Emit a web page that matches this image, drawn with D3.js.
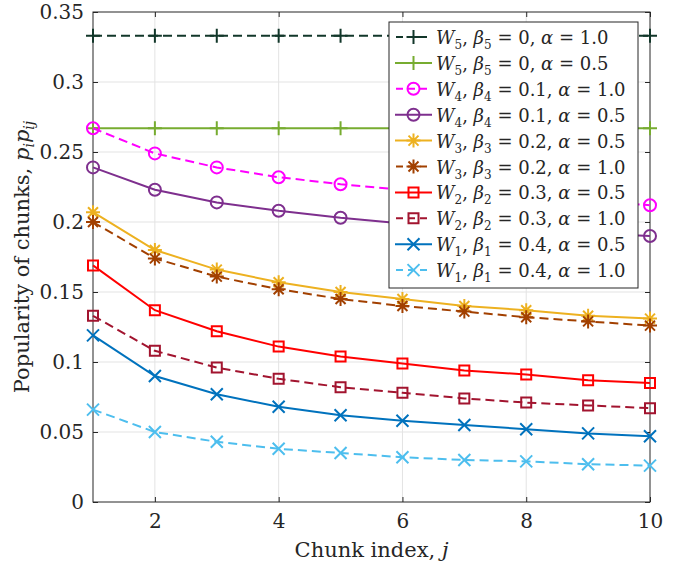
<!DOCTYPE html>
<html>
<head>
<meta charset="utf-8">
<script src="https://cdn.jsdelivr.net/npm/d3@7"></script>
<style>
  body { margin: 0; background: #fff; }
  text { font-family: "DejaVu Serif"; fill: #262626; }
</style>
</head>
<body>
<div id="chart"></div>
<script>
var width = 683,
    height = 570,
    margin = {top: 12, right: 33, bottom: 68, left: 93},
    font = "DejaVu Serif";

// chunk index j
var chunks = [1, 2, 3, 4, 5, 6, 7, 8, 9, 10];

// popularity p_i p_ij per workload
var w5a10 = [0.333, 0.333, 0.333, 0.333, 0.333, 0.333, 0.333, 0.333, 0.333, 0.333];
var w5a05 = [0.267, 0.267, 0.267, 0.267, 0.267, 0.267, 0.267, 0.267, 0.267, 0.267];
var w4a10 = [0.267, 0.249, 0.239, 0.232, 0.227, 0.223, 0.220, 0.217, 0.215, 0.212];
var w4a05 = [0.239, 0.223, 0.214, 0.208, 0.203, 0.199, 0.196, 0.194, 0.192, 0.190];
var w3a05 = [0.207, 0.180, 0.166, 0.157, 0.150, 0.145, 0.140, 0.137, 0.133, 0.131];
var w3a10 = [0.200, 0.174, 0.161, 0.152, 0.145, 0.140, 0.136, 0.132, 0.129, 0.126];
var w2a05 = [0.169, 0.137, 0.122, 0.111, 0.104, 0.099, 0.094, 0.091, 0.087, 0.085];
var w2a10 = [0.133, 0.108, 0.096, 0.088, 0.082, 0.078, 0.074, 0.071, 0.069, 0.067];
var w1a05 = [0.119, 0.090, 0.077, 0.068, 0.062, 0.058, 0.055, 0.052, 0.049, 0.047];
var w1a10 = [0.066, 0.050, 0.043, 0.038, 0.035, 0.032, 0.030, 0.029, 0.027, 0.026];

// legend labels: [workload, beta, alpha]
var labels = [
    ["5", "0", "1.0"], ["5", "0", "0.5"],
    ["4", "0.1", "1.0"], ["4", "0.1", "0.5"],
    ["3", "0.2", "0.5"], ["3", "0.2", "1.0"],
    ["2", "0.3", "0.5"], ["2", "0.3", "1.0"],
    ["1", "0.4", "0.5"], ["1", "0.4", "1.0"]
];
var values = [w5a10, w5a05, w4a10, w4a05, w3a05, w3a10, w2a05, w2a10, w1a05, w1a10];

var yTicks = [0, 0.05, 0.1, 0.15, 0.2, 0.25, 0.3, 0.35];
var yTickLabels = ["0", "0.05", "0.1", "0.15", "0.2", "0.25", "0.3", "0.35"];
var xTicks = [2, 4, 6, 8, 10];

// styles
var colors = ["#12372a", "#77ac30", "#ff00ff", "#7e2f8e", "#edb120",
              "#a24000", "#ff0000", "#a2142f", "#0072bd", "#4dbeee"];
var dashed = [true, false, true, false, false, true, false, true, false, true];
var markers = ["plus", "plus", "circle", "circle", "star", "star", "square", "square", "x", "x"];

var series = values.map(function (v, i) {
    return {
        label: labels[i], color: colors[i], dashed: dashed[i], marker: markers[i],
        points: chunks.map(function (c, k) { return {x: c, y: v[k]}; })
    };
});

var svg = d3.select("#chart").append("svg")
    .attr("width", width)
    .attr("height", height);

var x = d3.scaleLinear().domain([1, 10]).range([margin.left, width - margin.right]);
var y = d3.scaleLinear().domain([0, 0.35]).range([height - margin.bottom, margin.top]);

var axisColor = "#262626";

// grid
svg.append("g").selectAll("line.gy").data(yTicks.slice(1, -1)).enter().append("line")
    .attr("x1", x(1)).attr("x2", x(10))
    .attr("y1", function (d) { return y(d); }).attr("y2", function (d) { return y(d); })
    .style("stroke", "#e3e3e3").style("stroke-width", 1);
svg.append("g").selectAll("line.gx").data(xTicks.slice(0, -1)).enter().append("line")
    .attr("x1", function (d) { return x(d); }).attr("x2", function (d) { return x(d); })
    .attr("y1", y(0)).attr("y2", y(0.35))
    .style("stroke", "#e3e3e3").style("stroke-width", 1);

// axes with inward ticks
var xAxis = d3.axisBottom(x).tickValues(xTicks).tickSize(-5).tickPadding(12).tickFormat(d3.format("d"));
var xTop = d3.axisTop(x).tickValues(xTicks).tickSize(-5).tickFormat("");
var yAxis = d3.axisLeft(y).tickValues(yTicks).tickSize(-5).tickPadding(9)
    .tickFormat(function (d, i) { return yTickLabels[i]; });
var yRight = d3.axisRight(y).tickValues(yTicks).tickSize(-5).tickFormat("");

function styleAxis(g) {
    g.attr("font-family", font);
    g.select(".domain").remove();
    g.selectAll(".tick line").style("stroke", axisColor);
    g.selectAll(".tick text").attr("font-family", font)
        .style("font-size", "20px").style("fill", axisColor);
}

svg.append("g").attr("transform", "translate(0," + y(0) + ")").call(xAxis).call(styleAxis);
svg.append("g").attr("transform", "translate(0," + y(0.35) + ")").call(xTop).call(styleAxis);
svg.append("g").attr("transform", "translate(" + x(1) + ",0)").call(yAxis).call(styleAxis);
svg.append("g").attr("transform", "translate(" + x(10) + ",0)").call(yRight).call(styleAxis);

svg.append("rect")
    .attr("x", x(1)).attr("y", y(0.35))
    .attr("width", x(10) - x(1)).attr("height", y(0) - y(0.35))
    .style("fill", "none").style("stroke", axisColor).style("stroke-width", 1);

// marker shapes
function markerPath(m) {
    if (m == "plus") return "M-7,0H7M0,-7V7";
    if (m == "x") return "M-6,-6L6,6M-6,6L6,-6";
    if (m == "star") return "M-7,0H7M0,-7V7M-5,-5L5,5M-5,5L5,-5";
    if (m == "square") return "M-5,-5H5V5H-5Z";
    return "";
}

function drawMarker(sel, s) {
    if (s.marker == "circle") {
        sel.append("circle").attr("r", 6)
            .style("fill", "none").style("stroke", s.color).style("stroke-width", 2);
    } else {
        sel.append("path").attr("d", markerPath(s.marker))
            .style("fill", "none").style("stroke", s.color).style("stroke-width", 2);
    }
}

var line = d3.line()
    .x(function (d) { return x(d.x); })
    .y(function (d) { return y(d.y); });

var lines = svg.append("g");
series.forEach(function (s) {
    lines.append("path")
        .datum(s.points)
        .attr("d", line)
        .style("fill", "none")
        .style("stroke", s.color)
        .style("stroke-width", 2)
        .style("stroke-dasharray", s.dashed ? "9,5" : null);
    lines.selectAll(null).data(s.points).enter().append("g")
        .attr("transform", function (d) { return "translate(" + x(d.x) + "," + y(d.y) + ")"; })
        .each(function () { drawMarker(d3.select(this), s); });
});

// legend
var lx = 389, ly = 22, lw = 249, lh = 266, step = 25.9;
var legend = svg.append("g");
legend.append("rect")
    .attr("x", lx).attr("y", ly).attr("width", lw).attr("height", lh)
    .style("fill", "#fff").style("stroke", axisColor).style("stroke-width", 1);

series.forEach(function (s, i) {
    var cy = ly + 15 + i * step;
    var item = legend.append("g");
    item.append("line")
        .attr("x1", lx + 6).attr("x2", lx + 43).attr("y1", cy).attr("y2", cy)
        .style("stroke", s.color).style("stroke-width", 2)
        .style("stroke-dasharray", s.dashed ? "7,5" : null)
        .style("stroke-dashoffset", s.dashed ? -1 : null);
    var mk = item.append("g").attr("transform", "translate(" + (lx + 24.5) + "," + cy + ")");
    drawMarker(mk, s);

    var t = item.append("text")
        .attr("x", lx + 47).attr("y", cy + 7)
        .attr("font-family", font)
        .style("font-size", "18px");
    t.append("tspan").style("font-style", "italic").text("W");
    t.append("tspan").attr("dy", 5).style("font-size", "12px").text(s.label[0]);
    t.append("tspan").attr("dy", -5).text(", ");
    t.append("tspan").style("font-style", "italic").text("β");
    t.append("tspan").attr("dy", 5).style("font-size", "12px").text(s.label[0]);
    t.append("tspan").attr("dy", -5).text(" = " + s.label[1] + ", ");
    t.append("tspan").style("font-style", "italic").text("α");
    t.append("tspan").text(" = " + s.label[2]);
});

// axis labels
var xl = svg.append("text")
    .attr("x", (x(1) + x(10)) / 2).attr("y", 557)
    .attr("text-anchor", "middle")
    .attr("font-family", font)
    .style("font-size", "21px");
xl.append("tspan").text("Chunk index, ");
xl.append("tspan").style("font-style", "italic").text("j");

var yl = svg.append("text")
    .attr("transform", "translate(29," + ((y(0) + y(0.35)) / 2) + ") rotate(-90)")
    .attr("text-anchor", "middle")
    .attr("font-family", font)
    .style("font-size", "21px");
yl.append("tspan").text("Popularity of chunks, ");
yl.append("tspan").style("font-style", "italic").text("p");
yl.append("tspan").attr("dy", 5).style("font-size", "14px").style("font-style", "italic").text("i");
yl.append("tspan").attr("dy", -5).style("font-style", "italic").text("p");
yl.append("tspan").attr("dy", 5).style("font-size", "14px").style("font-style", "italic").text("ij");
</script>
</body>
</html>
